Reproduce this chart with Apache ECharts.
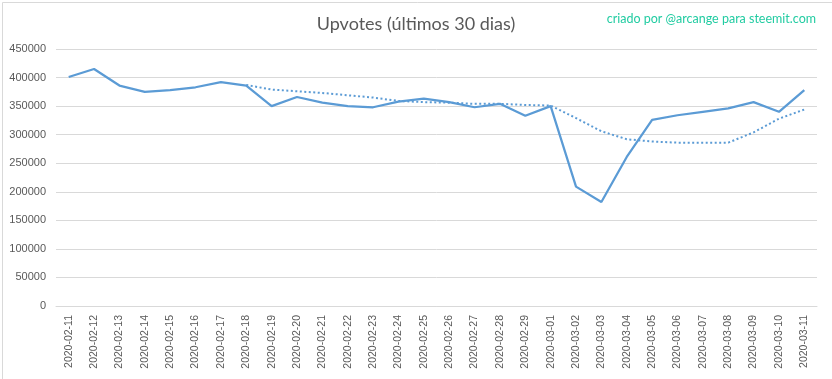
<!DOCTYPE html>
<html><head><meta charset="utf-8">
<script src="https://cdn.jsdelivr.net/npm/echarts@6/dist/echarts.min.js"></script>
<style>html,body{margin:0;padding:0;background:#fff}#c{width:832px;height:379px}</style>
</head><body><div id="c"></div>
<script>
var categories = ['2020-02-11','2020-02-12','2020-02-13','2020-02-14','2020-02-15','2020-02-16','2020-02-17','2020-02-18','2020-02-19','2020-02-20','2020-02-21','2020-02-22','2020-02-23','2020-02-24','2020-02-25','2020-02-26','2020-02-27','2020-02-28','2020-02-29','2020-03-01','2020-03-02','2020-03-03','2020-03-04','2020-03-05','2020-03-06','2020-03-07','2020-03-08','2020-03-09','2020-03-10','2020-03-11'];
var upvotes = [401000,415000,386000,375000,378000,383000,392000,386000,350000,366000,356000,350000,348000,358000,363000,357000,348000,354000,333000,350000,209000,182000,261000,326000,334000,340000,346000,357000,340000,378000];
var movingAvg = [null,null,null,null,null,null,null,387000,379000,376000,373000,369000,365000,359000,357000,356000,354000,354000,352000,351000,329000,306000,292000,288000,286000,286000,286000,304000,328000,344000];
var yTicks = {min:0, max:450000, interval:50000};

var chart = echarts.init(document.getElementById('c'), null, {renderer:'canvas'});
var font = 'Lato, "Liberation Sans", sans-serif';
chart.setOption({
  animation:false,
  backgroundColor:'#fff',
  title:[{text:'Upvotes (últimos 30 dias)', left:'center', top:10,
    textStyle:{fontFamily:font, fontSize:18, fontWeight:'normal', color:'#595959'}},
    {text:'criado por @arcange para steemit.com', right:11, top:7,
    textStyle:{fontFamily:font, fontSize:12.5, fontWeight:'normal', color:'#22CCA2'}}],
  graphic:[{type:'rect', left:0, top:0, shape:{width:831, height:378}, style:{fill:'none', stroke:'#D9D9D9', lineWidth:1}, silent:true, z:-1}],
  grid:{left:56, right:15, top:49, bottom:73},
  xAxis:{type:'category', data:categories, boundaryGap:true,
    axisLine:{lineStyle:{color:'#D9D9D9'}}, axisTick:{show:false},
    axisLabel:{rotate:90, interval:0, fontFamily:'"Liberation Sans", sans-serif', fontSize:10.5, color:'#595959', margin:9}},
  yAxis:{type:'value', min:yTicks.min, max:yTicks.max, interval:yTicks.interval,
    axisLine:{show:false}, axisTick:{show:false},
    splitLine:{lineStyle:{color:'#D9D9D9'}},
    axisLabel:{fontFamily:'"Liberation Sans", sans-serif', fontSize:11, color:'#595959', margin:10,
      formatter:function(v){return String(v);}}},
  series:[
    {type:'line', data:upvotes, symbol:'none', lineStyle:{color:'#5B9BD5', width:2.25}, z:3},
    {type:'line', data:movingAvg, symbol:'none', connectNulls:false, lineStyle:{color:'#5B9BD5', width:2, type:[2,2.5]}, z:2}
  ]
});
</script></body></html>
